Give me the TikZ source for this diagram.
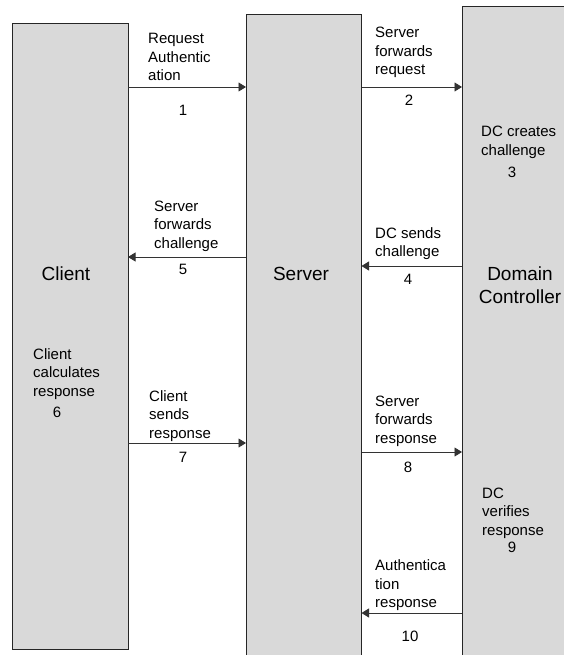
\documentclass[tikz,border=0pt]{standalone}
\usepackage{fontspec}
\setmainfont{Liberation Sans}
\usetikzlibrary{arrows.meta}
\definecolor{lanefill}{HTML}{D9D9D9}
\begin{document}
\begin{tikzpicture}[x=1pt,y=-1pt,
  lane/.style={rectangle, draw=black!85, line width=1pt, fill=lanefill,
    inner sep=0pt, outer sep=0pt, anchor=north west},
  % multi-line labels are placed by the baseline of their last line
  msg/.style={font=\fontsize{15}{18.5}\selectfont, align=left,
    inner sep=0pt, anchor=base west},
  num/.style={font=\fontsize{15}{18}\selectfont, inner sep=0pt, anchor=base},
  title/.style={font=\fontsize{19}{23}\selectfont, align=center,
    inner sep=0pt, anchor=base},
  flow/.style={draw=black!80, line width=0.9pt,
    -{Triangle[length=7.5pt,width=9pt]}}]
\useasboundingbox (0,0) rectangle (564,655);
\clip (0,0) rectangle (564,655);

% the three participants
\node[lane, minimum width=116pt, minimum height=625pt] (client) at (12,24) {};
\node[lane, minimum width=115.5pt, minimum height=660pt] (server) at (246,15) {};
\node[lane, minimum width=120pt, minimum height=670pt] (dc) at (462,7) {};

\node[title] (tclient) at (66,280) {Client};
\node[title] (tserver) at (301,280) {Server};
\node[title] (tdc) at (520,303) {Domain\\Controller};

% messages
\draw[flow] (client.east |- 0,87) -- (server.west |- 0,87);
\node[msg] (m1) at (148,81) {Request\\Authentic\\ation};
\node[num] (n1) at (183,115.5) {1};

\draw[flow] (server.east |- 0,87) -- (dc.west |- 0,87);
\node[msg] (m2) at (375,74.7) {Server\\forwards\\request};
\node[num] (n2) at (409,105.5) {2};

\node[msg] (m3) at (481,155.2) {DC creates\\challenge};
\node[num] (n3) at (512,177) {3};

\draw[flow] (dc.west |- 0,266) -- (server.east |- 0,266);
\node[msg] (m4) at (375,256.5) {DC sends\\challenge};
\node[num] (n4) at (408,284.5) {4};

\draw[flow] (server.west |- 0,257) -- (client.east |- 0,257);
\node[msg] (m5) at (154,248.4) {Server\\forwards\\challenge};
\node[num] (n5) at (183,274.5) {5};

\node[msg] (m6) at (33,396) {Client\\calculates\\response};
\node[num] (n6) at (57,417) {6};

\draw[flow] (client.east |- 0,443) -- (server.west |- 0,443);
\node[msg] (m7) at (149,438) {Client\\sends\\response};
\node[num] (n7) at (183,462) {7};

\draw[flow] (server.east |- 0,452) -- (dc.west |- 0,452);
\node[msg] (m8) at (375,443) {Server\\forwards\\response};
\node[num] (n8) at (408,472) {8};

\node[msg] (m9) at (482,535.3) {DC\\verifies\\response};
\node[num] (n9) at (512,552) {9};

\draw[flow] (dc.west |- 0,613) -- (server.east |- 0,613);
\node[msg] (m10) at (375,607.7) {Authentica\\tion\\response};
\node[num] (n10) at (410,641) {10};
\end{tikzpicture}
\end{document}
